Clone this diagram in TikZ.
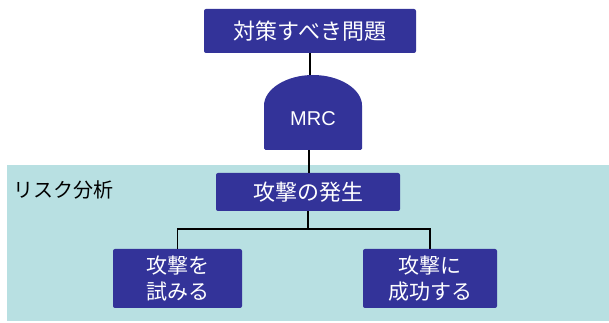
\documentclass[tikz,border=0pt]{standalone}
\usepackage{fontspec}
\newfontfamily\jp{Noto Sans CJK JP}
\newfontfamily\lat{Liberation Sans}
\definecolor{boxblue}{RGB}{51,51,153}
\definecolor{teal}{RGB}{184,224,226}
\begin{document}
\begin{tikzpicture}[x=1pt,y=1pt,
  bluebox/.style={fill=boxblue,draw=none,rounded corners=2pt,text=white,
    inner sep=0pt,align=center,font=\jp\fontsize{21}{26}\selectfont},
  conn/.style={draw=black,line width=1.3pt}]
\useasboundingbox (0,0) rectangle (609,323);
% risk analysis band
\fill[teal] (7,2) rectangle (609,158);
\node[anchor=west,inner sep=0pt,font=\jp\fontsize{20}{23}\selectfont] (risk) at (13,133) {リスク分析};
% nodes
\node[bluebox,minimum width=212pt,minimum height=44pt,font=\jp\fontsize{22}{26}\selectfont] (top) at (310,292) {対策すべき問題};
\fill[boxblue,rounded corners=1.5pt] (264,173) -- (264,216) arc[start angle=180,end angle=0,x radius=49pt,y radius=32pt] -- (362,173) -- cycle;
\node[text=white,font=\lat\fontsize{20}{24}\selectfont] (mrc) at (313,204) {MRC};
\coordinate (mrctop) at (310,248);
\coordinate (mrcbot) at (309,173);
\node[bluebox,minimum width=184pt,minimum height=38pt,font=\jp\fontsize{22}{26}\selectfont] (hatsu) at (308,131) {攻撃の発生};
\node[bluebox,minimum width=129pt,minimum height=59pt] (left) at (177.5,44.5) {攻撃を\\試みる};
\node[bluebox,minimum width=134pt,minimum height=59pt] (right) at (430,44.5) {攻撃に\\成功する};
% connectors
\draw[conn] (top.south -| mrctop) -- (mrctop);
\draw[conn] (mrcbot) -- (hatsu.north -| mrcbot);
\draw[conn] (hatsu.south) -- (hatsu.south |- 0,94) -| (left.north);
\draw[conn] (hatsu.south |- 0,94) -| (right.north);
\end{tikzpicture}
\end{document}
